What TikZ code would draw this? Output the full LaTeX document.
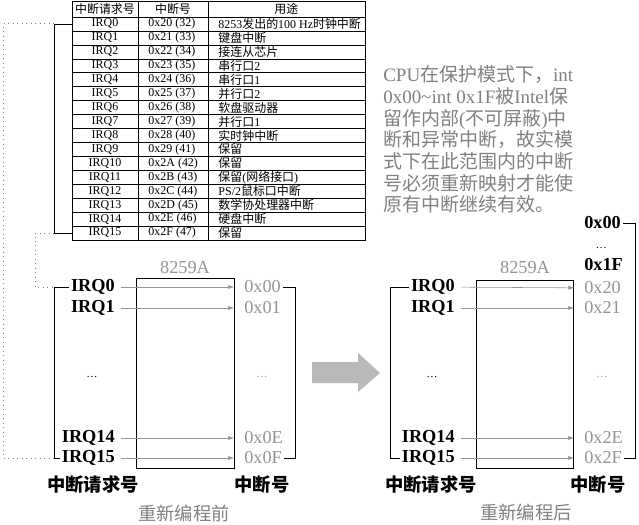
\documentclass[tikz,border=0pt]{standalone}
\usepackage{fontspec}
\setmainfont{Liberation Serif}
\newfontfamily\cjk{Noto Sans CJK SC}
\newcommand{\zh}[1]{{\cjk #1}}
\usepackage{tikz}
\usetikzlibrary{calc,positioning,arrows.meta}
\definecolor{notegray}{gray}{0.5}
\definecolor{hexgray}{gray}{0.58}
\tikzset{
  tabtext/.style={font=\fontsize{8.5}{9}\selectfont, inner sep=0.3mm},
  irq/.style={font=\fontsize{13}{15}\selectfont\bfseries, inner sep=0.5mm, anchor=east},
  hexlabel/.style={font=\fontsize{13}{15}\selectfont, text=hexgray, inner sep=0.5mm, anchor=west},
  hexbold/.style={hexlabel, text=black, font=\fontsize{13}{15}\selectfont\bfseries},
  smalldots/.style={font=\fontsize{8}{9}\selectfont, inner sep=0.3mm},
  chiplabel/.style={font=\fontsize{13}{15}\selectfont, text=hexgray},
  maplink/.style={hexgray, thin, -{Latex[length=1.4mm,width=1mm]}, shorten <=1mm, shorten >=2mm},
  dotlink/.style={gray, line width=0.7pt, dash pattern=on 0.6pt off 2.6pt},
  sidelabel/.style={font=\fontsize{13}{15}\selectfont\cjk\bfseries},
  paneltitle/.style={font=\fontsize{13}{15}\selectfont\cjk, text=notegray},
}
\begin{document}
\begin{tikzpicture}
  \useasboundingbox (0mm,0mm) rectangle (159.75mm,131mm);
  %table of the IRQ lines
  \draw[semithick] (18mm,130.75mm) rectangle (91.25mm,71mm);
  \draw[semithick] (18mm,126.75mm) -- (91.25mm,126.75mm);
  \foreach \i in {1,...,15}{
    \pgfmathsetmacro\yy{126.75-3.484*\i}
    \draw (18mm,\yy mm) -- (91.25mm,\yy mm);
  }
  \draw (34.5mm,130.75mm) -- (34.5mm,71mm);
  \draw (52mm,130.75mm) -- (52mm,71mm);
  \node[tabtext] (head1) at (26.25mm,128.75mm) {\zh{中断请求号}};
  \node[tabtext] (head2) at (43.25mm,128.75mm) {\zh{中断号}};
  \node[tabtext] (head3) at (71.6mm,128.75mm) {\zh{用途}};
  \foreach \i/\d/\u in {0/0/{8253\zh{发出的}100 Hz\zh{时钟中断}},
      1/1/\zh{键盘中断}, 2/2/\zh{接连从芯片}, 3/3/\zh{串行口}2, 4/4/\zh{串行口}1,
      5/5/\zh{并行口}2, 6/6/\zh{软盘驱动器}, 7/7/\zh{并行口}1, 8/8/\zh{实时钟中断},
      9/9/\zh{保留}, 10/A/\zh{保留}, 11/B/{\zh{保留}(\zh{网络接口})},
      12/C/{PS\slash 2\zh{鼠标口中断}}, 13/D/\zh{数学协处理器中断},
      14/E/\zh{硬盘中断}, 15/F/\zh{保留}}{
    \pgfmathsetmacro\yy{126.75-3.484*(\i+0.5)}
    \node[tabtext] (irq\i) at (26.25mm,\yy mm) {IRQ\i};
    \node[tabtext,anchor=west] (vec\i) at (36.75mm,\yy mm) {0x2\d\ (\the\numexpr32+\i\relax)};
    \node[tabtext,anchor=west] (use\i) at (54.25mm,\yy mm) {\u};
  }
  \coordinate (tabL) at (18mm,0mm);
  \coordinate (brL) at (13.5mm,0mm);
  \draw (irq0 -| tabL) -- (irq0 -| brL) -- (irq15 -| brL) -- (irq15 -| tabL);

  %before reprogramming
  \node[irq] (aIRQ0) at (29.25mm,59.25mm) {IRQ0};
  \node[irq] (aIRQ1) at (29.25mm,54mm) {IRQ1};
  \node[smalldots] (aDots) at (23mm,36.75mm) {\dots};
  \node[irq] (aIRQ14) at (29.25mm,21.5mm) {IRQ14};
  \node[irq] (aIRQ15) at (29.25mm,16.5mm) {IRQ15};
  \node[draw, minimum width=24.5mm, minimum height=47.5mm, inner sep=0] (aChip) at (46.25mm,37.75mm) {};
  \node[chiplabel] (aName) at (46.25mm,64mm) {8259A};
  \node[hexlabel] (aV0) at (60.5mm,59.25mm) {0x00};
  \node[hexlabel] (aV1) at (60.5mm,54mm) {0x01};
  \node[smalldots, text=hexgray] (aVdots) at (65.5mm,36.75mm) {\dots};
  \node[hexlabel] (aV14) at (60.5mm,21.5mm) {0x0E};
  \node[hexlabel] (aV15) at (60.5mm,16.5mm) {0x0F};
  \foreach \n in {0,1,14,15} \draw[maplink] (aIRQ\n) -- (aV\n);
  \coordinate (aR) at (73.75mm,0mm);
  \draw (aIRQ0.west) -- (aIRQ0 -| brL) -- (aIRQ15 -| brL) -- (aIRQ15.west);
  \draw (aV0.east) -- (aV0 -| aR) -- (aV15 -| aR) -- (aV15.east);
  \node[sidelabel] (aSrc) at (23.25mm,9.75mm) {中断请求号};
  \node[sidelabel] (aDst) at (65.5mm,9.75mm) {中断号};
  \node[paneltitle] (aTitle) at (46mm,2.75mm) {重新编程前};

  %dotted links from the table
  \coordinate (dotO) at (0.75mm,0mm);
  \coordinate (dotI) at (8.75mm,0mm);
  \draw[dotlink] (irq0 -| brL) -- (irq0 -| dotO) -- (aIRQ15 -| dotO) -- (aIRQ15 -| brL);
  \draw[dotlink] (irq15 -| brL) -- (irq15 -| dotI) -- (aIRQ0 -| dotI) -- (aIRQ0 -| brL);

  %big arrow
  \fill[gray!55] (78mm,40.5mm) -- (89.5mm,40.5mm) -- (89.5mm,42.75mm) -- (95mm,37.75mm)
    -- (89.5mm,33mm) -- (89.5mm,35.25mm) -- (78mm,35.25mm) -- cycle;

  %after reprogramming
  \node[irq] (bIRQ0) at (114.25mm,59.25mm) {IRQ0};
  \node[irq] (bIRQ1) at (114.25mm,54mm) {IRQ1};
  \node[smalldots] (bDots) at (108mm,36.75mm) {\dots};
  \node[irq] (bIRQ14) at (114.25mm,21.5mm) {IRQ14};
  \node[irq] (bIRQ15) at (114.25mm,16.5mm) {IRQ15};
  \node[draw, minimum width=24.25mm, minimum height=47mm, inner sep=0] (bChip) at (131.1mm,37.5mm) {};
  \node[chiplabel] (bName) at (131.25mm,64mm) {8259A};
  \node[hexbold] (bV00) at (145.5mm,75.25mm) {0x00};
  \node[smalldots] (bVd0) at (150.3mm,69mm) {\dots};
  \node[hexbold] (bV1F) at (145.5mm,64.75mm) {0x1F};
  \node[hexlabel] (bV0) at (145.5mm,59mm) {0x20};
  \node[hexlabel] (bV1) at (145.5mm,54mm) {0x21};
  \node[smalldots, text=hexgray] (bVdots) at (150.5mm,36.75mm) {\dots};
  \node[hexlabel] (bV14) at (145.5mm,21.5mm) {0x2E};
  \node[hexlabel] (bV15) at (145.5mm,16.5mm) {0x2F};
  \foreach \n in {0,1,14,15} \draw[maplink] (bIRQ\n) -- (bV\n);
  \coordinate (bL) at (97.5mm,0mm);
  \coordinate (bR) at (158.75mm,0mm);
  \draw (bIRQ0.west) -- (bIRQ0 -| bL) -- (bIRQ15 -| bL) -- (bIRQ15.west);
  \draw (bV00.east) -- (bV00 -| bR) -- (bV15 -| bR) -- (bV15.east);
  \node[sidelabel] (bSrc) at (107.75mm,9.75mm) {中断请求号};
  \node[sidelabel] (bDst) at (149.5mm,9.75mm) {中断号};
  \node[paneltitle] (bTitle) at (131.5mm,2.75mm) {重新编程后};

  %note on the reserved vectors
  \node[anchor=north west, inner sep=0, text=notegray, align=left,
        font=\fontsize{13.5}{15.4}\selectfont] (note) at (95.75mm,114.6mm)
    {CPU\zh{在保护模式下，}int\\
     0x00\textasciitilde int 0x1F\zh{被}Intel\zh{保}\\
     \zh{留作内部}(\zh{不可屏蔽})\zh{中}\\
     \zh{断和异常中断，故实模}\\
     \zh{式下在此范围内的中断}\\
     \zh{号必须重新映射才能使}\\
     \zh{原有中断继续有效。}};
\end{tikzpicture}
\end{document}
